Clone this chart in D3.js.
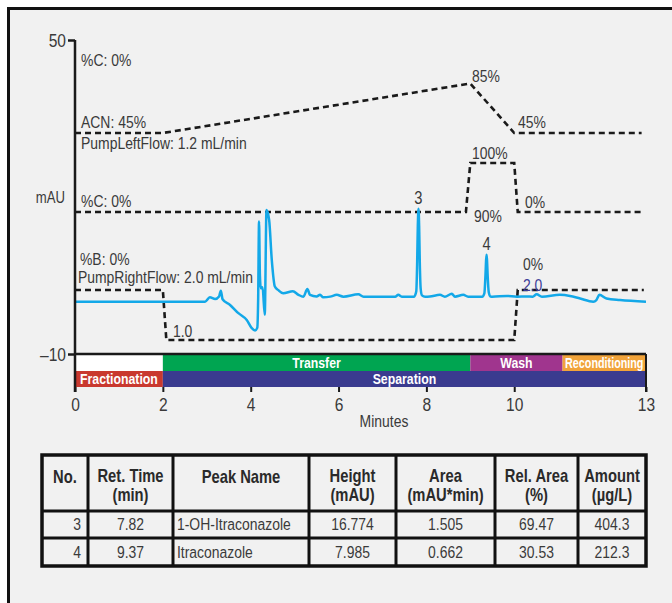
<!DOCTYPE html>
<html>
<head>
<meta charset="utf-8">
<script src="https://cdn.jsdelivr.net/npm/d3@7"></script>
<style>
  body { margin: 0; background: #fff; }
  svg { display: block; }
  text { font-family: "Liberation Sans", Arial, sans-serif; fill: #3a3a3a; }
</style>
</head>
<body>
<svg id="chart" width="672" height="603"></svg>
<script>
// ---- Chromatogram trace (time in minutes, absorbance in mAU) ----
const traceTime = [0, 2.96, 3.07, 3.19, 3.28, 3.32, 3.36, 3.53, 3.72, 3.91, 4.02, 4.10, 4.15, 4.17, 4.19, 4.21,
  4.23, 4.27, 4.32, 4.36, 4.42, 4.48, 4.55, 4.63, 4.74, 4.96, 5.09, 5.20, 5.29, 5.35, 5.50, 5.58, 5.65,
  5.81, 5.96, 6.11, 6.45, 6.57, 7.29, 7.36, 7.44, 7.72, 7.77, 7.79, 7.805, 7.835, 7.85, 7.87, 7.90, 7.97,
  8.08, 8.31, 8.42, 8.58, 8.65, 8.84, 8.95, 9.27, 9.32, 9.345, 9.36, 9.38, 9.395, 9.42, 9.46, 9.50,
  9.83, 10.06, 10.28, 10.42, 10.51, 10.63, 11.04, 11.27, 11.5, 11.8, 11.87, 11.94, 12.1, 12.41, 13.0];
const traceMAU = [0, 0, 0.84, 0.5, 1.0, 2.1, 0.45, -0.63, -2.2, -3.5, -5.0, -5.5, -5.0, 0.5, 15.3, 5.0,
  2.55, 2.75, -2.5, 17.5, 15.6, 8.0, 2.9, 2.2, 1.6, 2.0, 1.3, 0.96, 2.4, 1.3, 1.0, 1.3, 0.84,
  0.96, 1.3, 0.96, 1.4, 0.96, 0.96, 1.3, 0.96, 0.96, 2.0, 7.5, 14.5, 14.5, 7.5, 2.5, 1.2, 0.96,
  1.0, 1.3, 0.96, 1.5, 0.96, 1.3, 0.96, 0.96, 1.6, 5.0, 8.0, 8.0, 5.0, 1.8, 1.0, 0.96,
  1.1, 0.96, 1.0, 0.96, 1.4, 0.96, 1.3, 1.1, 0.6, 0.0, 0.3, 1.3, 0.6, 0.3, 0.0];
const peakBaseline = 0.96;   // local baseline under peaks 3 and 4 (mAU)

// ---- Peak table ----
const peakNo = [3, 4];
const retTime = [7.82, 9.37];
const peakName = ["1-OH-Itraconazole", "Itraconazole"];
const peakHeight = [16.774, 7.985];
const peakArea = [1.505, 0.662];
const relArea = [69.47, 30.53];
const amount = [404.3, 212.3];
const tableHeaders = [["No."], ["Ret. Time", "(min)"], ["Peak Name"], ["Height", "(mAU)"],
  ["Area", "(mAU*min)"], ["Rel. Area", "(%)"], ["Amount", "(µg/L)"]];

// ---- Gradient / flow programs ----
const acnTime = [0, 2, 9, 10, 12.9];
const acnPct = [45, 45, 85, 45, 45];
const pctCTime = [0, 8.9, 9.0, 10.0, 10.08, 12.95];
const pctC = [0, 0, 100, 100, 0, 0];
const flowTime = [0, 2, 2.08, 10.0, 10.08, 12.95];
const flowRight = [2.0, 2.0, 1.0, 1.0, 2.0, 2.0];

// ---- Method phases ----
const phaseName = ["Transfer", "Wash", "Reconditioning", "Fractionation", "Separation"];
const phaseStart = [2, 9, 11.1, 0, 2];
const phaseEnd = [9, 11.1, 13, 2, 13];
const phaseRow = [0, 0, 0, 1, 1];
const phaseColor = ["#00a551", "#a0358e", "#f1a33a", "#c9392f", "#3a3b8f"];

const xTicks = [0, 2, 4, 6, 8, 10, 13];
const yTicks = [50, -10];

const NARROW = 0.82;   // horizontal squeeze that turns the sans face into a narrow cut
function narrow(sel, k = NARROW) {
  sel.each(function () {
    const t = d3.select(this);
    const x0 = +t.attr("x") || 0;
    t.attr("x", x0 / k).attr("transform", `scale(${k},1)`);
  });
  return sel;
}

const svg = d3.select("#chart");

// panel frame
svg.append("rect").attr("x", 8.5).attr("y", 8.5).attr("width", 700).attr("height", 700)
  .attr("fill", "#f1f1f1").attr("stroke", "#111").attr("stroke-width", 3);

const x = d3.scaleLinear().domain([0, 13]).range([75, 646]);
const y = d3.scaleLinear().domain([-10, 50]).range([354, 40]);
const yAcn = d3.scaleLinear().domain([45, 85]).range([133, 83.5]);
const yC = d3.scaleLinear().domain([0, 100]).range([212, 163]);
const yFlow = d3.scaleLinear().domain([1, 2]).range([340, 290]);

// phase bars
const rowTop = [355, 371], rowH = 16;
const phases = phaseName.map((n, i) => ({ n, s: phaseStart[i], e: phaseEnd[i], r: phaseRow[i], c: phaseColor[i] }));
svg.append("rect").attr("x", x(0)).attr("y", rowTop[0]).attr("width", x(2) - x(0)).attr("height", rowH).attr("fill", "#fff");
svg.selectAll("rect.phase").data(phases).join("rect").attr("class", "phase")
  .attr("x", d => x(d.s)).attr("y", d => rowTop[d.r]).attr("width", d => x(d.e) - x(d.s)).attr("height", rowH)
  .attr("fill", d => d.c);
svg.selectAll("text.phase").data(phases).join("text").attr("class", "phase")
  .attr("x", d => (x(d.s) + x(d.e)) / 2).attr("y", d => rowTop[d.r] + 13)
  .attr("text-anchor", "middle").style("fill", "#fff").style("font-weight", "bold").style("font-size", "15px")
  .text(d => d.n)
  .each(function (d) {
    const w = this.getComputedTextLength();
    const k = Math.min(NARROW, (x(d.e) - x(d.s) - 5) / w);
    narrow(d3.select(this), k);
  });

// program lines (dashed)
const dash = g => g.attr("fill", "none").attr("stroke", "#1a1a1a").attr("stroke-width", 2.6).attr("stroke-dasharray", "6,4");
const progLine = (t, v, ys) => d3.line().x((d, i) => x(t[i])).y(d => ys(d))(v);
svg.append("path").attr("d", progLine(acnTime, acnPct, yAcn)).call(dash);
svg.append("path").attr("d", progLine(pctCTime, pctC, yC)).call(dash);
svg.append("path").attr("d", progLine(flowTime, flowRight, yFlow)).call(dash);

// chromatogram trace with peaks from the table
const pts = traceTime.map((t, i) => [t, traceMAU[i]]);
retTime.forEach((t, i) => pts.push([t, peakBaseline + peakHeight[i]]));
pts.sort((a, b) => a[0] - b[0]);
svg.append("path")
  .attr("d", d3.line().x(d => x(d[0])).y(d => y(d[1])).curve(d3.curveMonotoneX)(pts))
  .attr("fill", "none").attr("stroke", "#13a8e8").attr("stroke-width", 2.5).attr("stroke-linejoin", "round");

// axes
svg.append("line").attr("x1", x(0)).attr("x2", x(0)).attr("y1", y(50)).attr("y2", 392).attr("stroke", "#1a1a1a").attr("stroke-width", 2.5);
svg.append("line").attr("x1", x(13)).attr("x2", x(13)).attr("y1", y(-10)).attr("y2", 392).attr("stroke", "#1a1a1a").attr("stroke-width", 2);
svg.append("line").attr("x1", x(0)).attr("x2", x(13)).attr("y1", y(-10)).attr("y2", y(-10)).attr("stroke", "#1a1a1a").attr("stroke-width", 2.5);

const yAxis = svg.append("g").attr("transform", `translate(${x(0)},0)`)
  .call(d3.axisLeft(y).tickValues(yTicks).tickSize(7).tickPadding(2).tickFormat(d => d < 0 ? "–" + Math.abs(d) : d));
yAxis.select(".domain").remove();
yAxis.selectAll("line").attr("stroke", "#1a1a1a").attr("stroke-width", 2.5);
yAxis.selectAll("text").style("font-size", "19px").style("fill", "#3a3a3a").attr("font-family", null).call(narrow);

const xAxis = svg.append("g").attr("transform", "translate(0,387)")
  .call(d3.axisBottom(x).tickValues(xTicks).tickSize(5).tickPadding(6));
xAxis.select(".domain").remove();
xAxis.selectAll("line").attr("stroke", "#1a1a1a").attr("stroke-width", 2);
xAxis.selectAll("text").style("font-size", "19px").style("fill", "#3a3a3a").attr("font-family", null).call(narrow);

svg.append("text").attr("x", 384).attr("y", 427).attr("text-anchor", "middle").style("font-size", "17px").text("Minutes").call(narrow);
svg.append("text").attr("x", 65).attr("y", 203).attr("text-anchor", "end").style("font-size", "16px").text("mAU").call(narrow);

// annotations
const ann = [
  [81, 66, "%C: 0%"], [81, 128, "ACN: 45%"], [81, 149, "PumpLeftFlow: 1.2 mL/min"],
  [81, 207, "%C: 0%"], [80, 265, "%B: 0%"], [78, 283, "PumpRightFlow: 2.0 mL/min"],
  [173, 337, "1.0"], [472, 82, "85%"], [518, 128, "45%"], [472, 159, "100%"],
  [525, 208, "0%"], [474, 222, "90%"], [523, 270, "0%"]
];
svg.selectAll("text.ann").data(ann).join("text").attr("class", "ann")
  .attr("x", d => d[0]).attr("y", d => d[1]).style("font-size", "17px").text(d => d[2]).call(narrow);
svg.append("text").attr("x", 523).attr("y", 291).style("font-size", "17px").style("fill", "#3d3d98").text("2.0").call(narrow);

// peak numbers
svg.selectAll("text.pk").data(peakNo).join("text").attr("class", "pk")
  .attr("x", (d, i) => x(retTime[i])).attr("y", (d, i) => y(peakBaseline + peakHeight[i]) - 5)
  .attr("text-anchor", "middle").style("font-size", "18px").text(d => d).call(narrow);

// results table
const colX = [42, 88, 173, 309, 396, 495, 578, 646];
const rowY = [455, 511, 538, 566];
const tbl = svg.append("g");
tbl.append("rect").attr("x", colX[0]).attr("y", rowY[0]).attr("width", colX[7] - colX[0]).attr("height", rowY[3] - rowY[0])
  .attr("fill", "#f1f1f1").attr("stroke", "#111").attr("stroke-width", 3.5);
colX.slice(1, -1).forEach(cx => tbl.append("line").attr("x1", cx).attr("x2", cx).attr("y1", rowY[0]).attr("y2", rowY[3]).attr("stroke", "#111").attr("stroke-width", 3));
rowY.slice(1, -1).forEach(ry => tbl.append("line").attr("x1", colX[0]).attr("x2", colX[7]).attr("y1", ry).attr("y2", ry).attr("stroke", "#111").attr("stroke-width", 3));

tableHeaders.forEach((h, c) => {
  const cx = (colX[c] + colX[c + 1]) / 2;
  h.forEach((line, k) => tbl.append("text").attr("x", cx).attr("y", h.length === 1 ? 483 : 482 + k * 19)
    .attr("text-anchor", "middle").style("font-size", "18px").style("font-weight", "bold").style("fill", "#2a2a2a")
    .text(line).call(narrow));
});

const rows = peakNo.map((n, i) => [String(n), retTime[i].toFixed(2), peakName[i], peakHeight[i].toFixed(3),
  peakArea[i].toFixed(3), relArea[i].toFixed(2), amount[i].toFixed(1)]);
rows.forEach((r, ri) => {
  const by = (rowY[ri + 1] + rowY[ri + 2]) / 2 + 6;
  r.forEach((v, c) => {
    let ax = (colX[c] + colX[c + 1]) / 2, anchor = "middle";
    if (c === 0) { ax = colX[1] - 7; anchor = "end"; }
    if (c === 2) { ax = colX[2] + 4; anchor = "start"; }
    tbl.append("text").attr("x", ax).attr("y", by).attr("text-anchor", anchor).style("font-size", "17px").text(v).call(narrow);
  });
});
</script>
</body>
</html>
